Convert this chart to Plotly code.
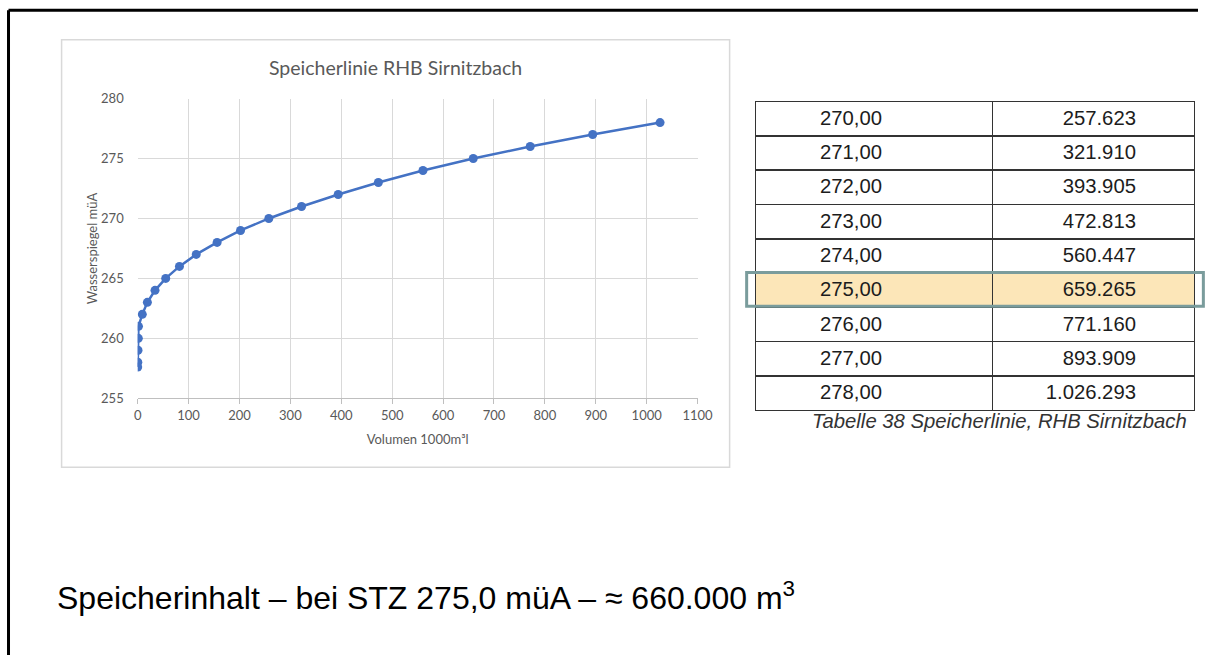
import plotly.graph_objects as go

# ---- data ----
levels = [257.6, 258, 259, 260, 261, 262, 263, 264, 265, 266, 267, 268, 269,
          270, 271, 272, 273, 274, 275, 276, 277, 278]
volumes = [0.0, 0.2, 0.6, 1.2, 1.5, 9.0, 19.0, 34.0, 55.0, 82.0, 115.0, 156.0, 202.0,
           257.623, 321.910, 393.905, 472.813, 560.447, 659.265, 771.160, 893.909, 1026.293]

table_levels = [270, 271, 272, 273, 274, 275, 276, 277, 278]
table_volumes = [257.623, 321.910, 393.905, 472.813, 560.447, 659.265, 771.160, 893.909, 1026.293]
highlight_level = 275

chart_title = "Speicherlinie RHB Sirnitzbach"
x_title = "Volumen 1000m³l"
y_title = "Wasserspiegel müA"
caption = "Tabelle 38 Speicherlinie, RHB Sirnitzbach"
summary = "Speicherinhalt – bei STZ 275,0 müA – ≈ 660.000 m<sup>3</sup>"

W, H = 1214, 663
# measured page->picture mapping of the photographing step
AX, BX = 0.982, 4.5
AY, BY = 0.977, 7.3


def px(sx):
    return ((sx - BX) / AX) / W


def py(sy):
    return 1 - ((sy - BY) / AY) / H


lvl_labels = [f"{l:.2f}".replace(".", ",") for l in table_levels]
vol_labels = [f"{round(v * 1000):,}".replace(",", ".") for v in table_volumes]
row_fill = ["#fce6b8" if l == highlight_level else "white" for l in table_levels]

tbl_font = dict(family="Liberation Sans, Arial", size=20.3, color="#1c1c1c")
tbl_line = dict(color="#333333", width=1.5)
pre = ["\u00a0" * 10, ""]
suf = ["", "\u00a0" * 9]
row_h = 34.3

fig = go.Figure()

fig.add_trace(go.Scatter(
    x=volumes, y=levels, mode="lines+markers",
    line=dict(color="#4472C4", width=2.5),
    marker=dict(color="#4472C4", size=9),
    showlegend=False, hoverinfo="x+y",
))

fig.add_trace(go.Table(
    domain=dict(x=[px(755), px(1194)], y=[py(416), py(101)]),
    columnwidth=[237, 202],
    header=dict(
        values=[lvl_labels[0], vol_labels[0]],
        height=row_h, align=["left", "right"], prefix=pre, suffix=suf,
        fill=dict(color=[row_fill[0], row_fill[0]]),
        line=tbl_line, font=tbl_font,
    ),
    cells=dict(
        values=[lvl_labels[1:], vol_labels[1:]],
        height=row_h, align=["left", "right"], prefix=pre, suffix=suf,
        fill=dict(color=[row_fill[1:], row_fill[1:]]),
        line=tbl_line, font=tbl_font,
    ),
))

grid = "#d9d9d9"
tickc = "#595959"
font_chart = "Lato, Open Sans, sans-serif"

fig.update_layout(
    width=W, height=H,
    margin=dict(l=0, r=0, t=0, b=0),
    paper_bgcolor="white", plot_bgcolor="white",
    showlegend=False,
    xaxis=dict(
        domain=[px(138), px(697)], range=[0, 1100], dtick=100, tick0=0,
        showgrid=True, gridcolor=grid, gridwidth=1,
        showline=True, linecolor="#bfbfbf", linewidth=1,
        ticks="outside", ticklen=5, tickcolor="#bfbfbf",
        zeroline=False,
        tickfont=dict(family=font_chart, size=13, color=tickc),
        title=dict(text=x_title, standoff=13, font=dict(family=font_chart, size=13, color=tickc)),
        fixedrange=True,
    ),
    yaxis=dict(
        domain=[py(398), py(98)], range=[255, 280], dtick=5,
        showgrid=True, gridcolor=grid, gridwidth=1,
        showline=False, zeroline=False,
        ticks="", ticklabelstandoff=13,
        tickfont=dict(family=font_chart, size=13, color=tickc),
        title=dict(text=y_title, standoff=0, font=dict(family=font_chart, size=13, color=tickc)),
        fixedrange=True,
    ),
)

shapes = [
    # slide frame (top and left)
    dict(type="line", xref="paper", yref="paper", x0=px(9), x1=1, y0=py(9.5), y1=py(9.5),
         line=dict(color="black", width=3)),
    dict(type="line", xref="paper", yref="paper", x0=px(9), x1=px(9), y0=py(9.5), y1=0,
         line=dict(color="black", width=3)),
    # chart frame
    dict(type="rect", xref="paper", yref="paper", x0=px(62), x1=px(729), y0=py(467), y1=py(39),
         line=dict(color="#d9d9d9", width=1.5), layer="below"),
    # highlight frame around row
    dict(type="rect", xref="paper", yref="paper", x0=px(746), x1=px(1202), y0=py(306), y1=py(272),
         line=dict(color="#7a9c9c", width=3)),
]
fig.update_layout(shapes=shapes)

fig.add_annotation(text=chart_title, xref="paper", yref="paper",
                   x=px(395), y=py(67), xanchor="center", yanchor="middle", showarrow=False,
                   font=dict(family=font_chart, size=19.5, color=tickc))
fig.add_annotation(text=f"<i>{caption}</i>", xref="paper", yref="paper",
                   x=px(1188), y=py(421), xanchor="right", yanchor="middle", showarrow=False,
                   font=dict(family="Liberation Sans, Arial", size=20.3, color="#333333"))
fig.add_annotation(text=summary, xref="paper", yref="paper",
                   x=px(55), y=py(596), xanchor="left", yanchor="middle", showarrow=False,
                   font=dict(family="Liberation Sans, Arial", size=32, color="black"))

fig.write_html(
    "out.html",
    config={"displayModeBar": False},
    post_script="document.body.style.margin='0';document.body.style.overflow='hidden';",
)
